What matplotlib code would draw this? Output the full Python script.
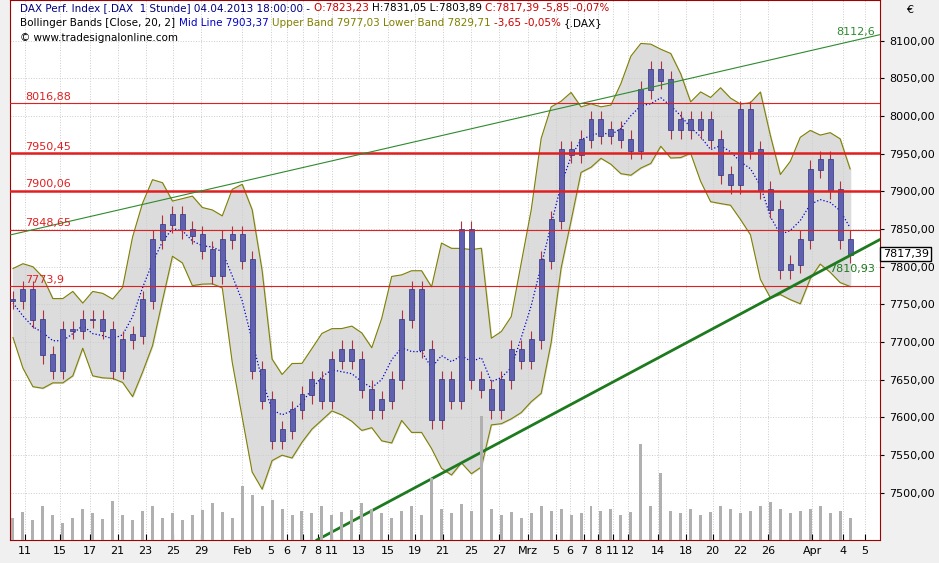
import numpy as np
import pandas as pd
import matplotlib.pyplot as plt

# approximate closing path (one bar ~ half a trading day)
closes = [7756, 7769, 7730, 7683, 7663, 7716, 7716, 7730, 7730, 7716,
          7663, 7703, 7709, 7756, 7836, 7856, 7869, 7849, 7842, 7822,
          7789, 7836, 7842, 7809, 7663, 7623, 7570, 7583, 7610, 7630,
          7650, 7623, 7676, 7690, 7676, 7637, 7610, 7623, 7650, 7730,
          7769, 7690, 7597, 7650, 7623, 7849, 7650, 7637, 7610, 7650,
          7690, 7676, 7703, 7809, 7862, 7955, 7949, 7969, 7995, 7975,
          7982, 7969, 7955, 8035, 8061, 8048, 7982, 7995, 7982, 7995,
          7969, 7922, 7909, 8008, 7955, 7902, 7876, 7796, 7803, 7836,
          7929, 7942, 7902, 7836, 7817]
volume = [20, 25, 18, 30, 22, 15, 20, 28, 24, 19,
          35, 22, 18, 26, 30, 20, 24, 18, 22, 27,
          33, 25, 20, 48, 40, 30, 36, 28, 22, 26,
          24, 30, 22, 25, 27, 33, 28, 24, 20, 26,
          30, 22, 55, 28, 24, 32, 26, 110, 28, 22,
          25, 20, 24, 30, 26, 28, 22, 24, 30, 26,
          28, 22, 25, 85, 30, 60, 26, 24, 28, 22,
          25, 30, 28, 24, 26, 30, 34, 28, 24, 26,
          28, 30, 24, 26, 20]
hlines = [8016.88, 7950.45, 7900.06, 7848.65, 7773.9]
hlabels = ["8016,88", "7950,45", "7900,06", "7848,65", "7773,9"]
hwidths = [0.8, 1.8, 1.8, 0.8, 0.8]
tick_px = [22, 57, 87, 115, 143, 171, 199, 240, 269, 285, 301, 316, 330, 357, 386,
           413, 441, 470, 498, 527, 555, 569, 583, 597, 612, 627, 657, 685, 712,
           740, 768, 812, 843, 865]
tick_labels = ["11", "15", "17", "21", "23", "25", "29", "Feb", "5", "6", "7", "8", "11",
               "13", "15", "19", "21", "25", "27", "Mrz", "5", "6", "7", "8", "11", "12",
               "14", "18", "20", "22", "26", "Apr", "4", "5"]

n = len(closes)
x = np.arange(n)
px0, pxstep = 10, 840 / (n - 1)
c = pd.Series(closes, dtype=float)
o = c.shift(1).fillna(c.iloc[0])
mid = c.rolling(5, min_periods=1, center=True).mean()
sd = c.rolling(5, min_periods=1, center=True).std().fillna(0)
upper = mid + 1.3 * sd + 20
lower = mid - 1.3 * sd - 20

fig = plt.figure(figsize=(9.39, 5.63), dpi=100, facecolor='#f0f0f0')
ax = fig.add_axes([10/939, 23/563, 870/939, 540/563])
ax.set_facecolor('white')
xmax = (880 - px0) / pxstep
ax.set_xlim(-0.3, xmax)
ax.set_ylim(7437, 8154)

# volume at bottom
axv = ax.twinx()
axv.bar(x, volume, width=0.3, color='#b0b0b0', zorder=0)
axv.set_ylim(0, 480)
axv.axis('off')

ax.fill_between(x, lower, upper, color='#dcdcdc', zorder=1)
ax.plot(x, upper, color='#808000', lw=0.8, zorder=2)
ax.plot(x, lower, color='#808000', lw=0.8, zorder=2)
ax.plot(x, mid, color='#0000cc', lw=0.9, ls=':', zorder=3)

hi = np.maximum(o, c) + 12
lo = np.minimum(o, c) - 12
ax.vlines(x, lo, hi, color='#b03040', lw=0.8, zorder=4)
ax.bar(x, np.abs(c - o) + 2, bottom=np.minimum(o, c) - 1, width=0.5,
       color='#6060b0', edgecolor='#303080', lw=0.5, zorder=5)

for v, lab, w in zip(hlines, hlabels, hwidths):
    ax.axhline(v, color='#e02020', lw=w, zorder=6)
    ax.text(1.2, v + 5, lab, color='#e02020', fontsize=8, zorder=7)

# trendlines
ax.plot([-0.3, xmax], [7842, 8108], color='#2e8b2e', lw=0.8, zorder=6)
ax.plot([(315 - px0) / pxstep, xmax], [7437, 7836], color='#1e7a1e', lw=2, zorder=6)
ax.text(xmax - 0.5, 8112, "8112,6", color='#2e8b2e', fontsize=8, ha='right', va='center')
ax.text(xmax - 0.5, 7803, "7810,93", color='#1e7a1e', fontsize=8, ha='right', va='top')

ax.yaxis.tick_right()
ax.set_yticks(np.arange(7500, 8101, 50))
ax.set_yticklabels([f"{v:.2f}".replace(".", ",") for v in range(7500, 8101, 50)], fontsize=8)
ax.set_xticks([(p - px0) / pxstep for p in tick_px])
ax.set_xticklabels(tick_labels, fontsize=8)
ax.tick_params(axis='x', direction='in', length=4, pad=4)
ax.tick_params(axis='y', length=3)
ax.grid(True, color='#cccccc', ls=':', lw=0.7)
for s in ax.spines.values():
    s.set_color('#a00000')
ax.text(1.03, 0.99, "€", transform=ax.transAxes, fontsize=8, va='top')
ax.text(1.003, (7817 - 7437) / (8154 - 7437), "7817,39", transform=ax.transAxes,
        fontsize=8, va='center', bbox=dict(fc='white', ec='black', pad=1.5))

# header lines, pieces placed one after another
renderer = fig.canvas.get_renderer()
header = [
    [("DAX Perf. Index [.DAX  1 Stunde] 04.04.2013 18:00:00 - ", '#000080'),
     ("O:7823,23 ", '#cc0000'), ("H:7831,05 L:7803,89 ", 'black'),
     ("C:7817,39 -5,85 -0,07%", '#cc0000')],
    [("Bollinger Bands [Close, 20, 2] ", 'black'), ("Mid Line 7903,37 ", '#0000cc'),
     ("Upper Band 7977,03 Lower Band 7829,71 ", '#808000'), ("-3,65 -0,05% ", '#cc0000'),
     ("{.DAX}", 'black')],
    [("© www.tradesignalonline.com", 'black')],
]
inv = ax.transAxes.inverted()
for row, parts in enumerate(header):
    xpos = 0.012
    for s, col in parts:
        t = ax.text(xpos, 0.995 - row * 0.028, s, transform=ax.transAxes, fontsize=7.5,
                    va='top', color=col, zorder=8)
        bb = t.get_window_extent(renderer)
        xpos = inv.transform((bb.x1, bb.y0))[0]

fig.savefig("out.png", dpi=100, facecolor=fig.get_facecolor())
